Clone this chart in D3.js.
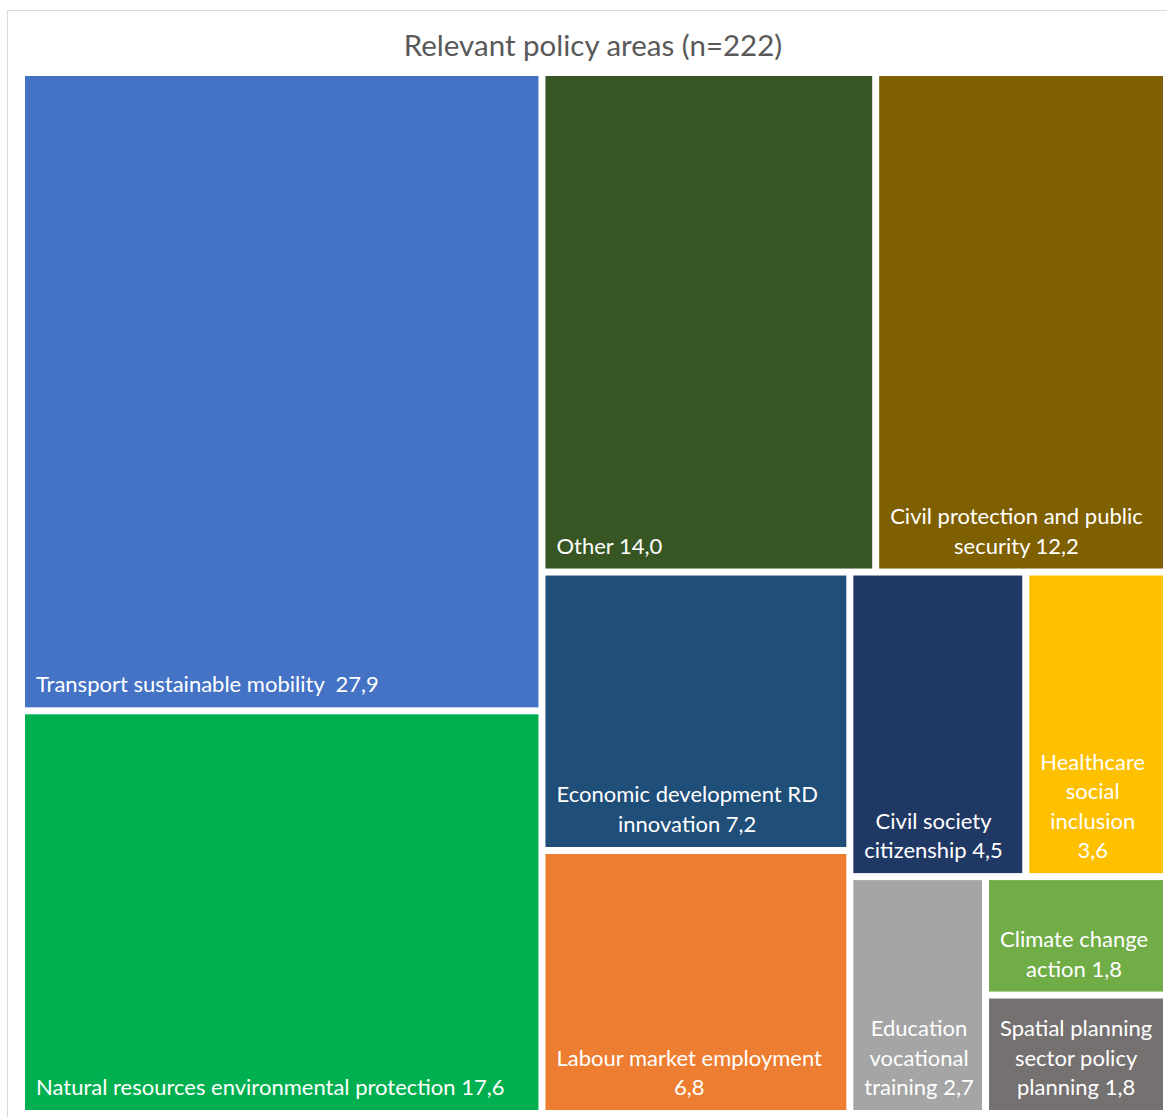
<!DOCTYPE html>
<html lang="en">
<head>
<meta charset="utf-8">
<title>Relevant policy areas</title>
<script src="https://cdn.jsdelivr.net/npm/d3@7"></script>
<style>
  body { margin: 0; background: #fff; }
  text { font-family: Lato, "Open Sans", sans-serif; }
  .lbl { fill: #fff; font-size: 22px; white-space: pre; }
</style>
</head>
<body>
<div id="chart"></div>
<script>
// data (share in %, n=222)
var categories = ["Transport sustainable mobility", "Natural resources environmental protection",
  "Other", "Civil protection and public security", "Economic development RD innovation",
  "Labour market employment", "Civil society citizenship", "Healthcare social inclusion",
  "Education vocational training", "Climate change action", "Spatial planning sector policy planning"];
var values = [27.9, 17.6, 14.0, 12.2, 7.2, 6.8, 4.5, 3.6, 2.7, 1.8, 1.8];
var colors = ["#4472C4", "#00B050", "#375623", "#7F6000", "#1F4E79", "#ED7D31",
  "#203864", "#FFC000", "#A5A5A5", "#70AD47", "#767171"];
// tile labels as wrapped in the original
var labelLines = [
  ["Transport sustainable mobility  27,9"],
  ["Natural resources environmental protection 17,6"],
  ["Other 14,0"],
  ["Civil protection and public", "security 12,2"],
  ["Economic development RD", "innovation 7,2"],
  ["Labour market employment", "6,8"],
  ["Civil society", "citizenship 4,5"],
  ["Healthcare", "social", "inclusion", "3,6"],
  ["Education", "vocational", "training 2,7"],
  ["Climate change", "action 1,8"],
  ["Spatial planning", "sector policy", "planning 1,8"]
];
var title = "Relevant policy areas (n=222)";

var w = 1167, h = 1117;
var box = {x0: 25, y0: 76, x1: 1163, y1: 1110};
var gap = 3.5;

var svg = d3.select("#chart").append("svg")
  .attr("width", w)
  .attr("height", h);

// chart frame
svg.append("rect")
  .attr("x", 7.5).attr("y", 10.5)
  .attr("width", 1300).attr("height", 1300)
  .attr("fill", "#fff")
  .attr("stroke", "#D9D9D9");

svg.append("text")
  .attr("x", 593).attr("y", 56)
  .attr("text-anchor", "middle")
  .attr("fill", "#595959")
  .style("font-size", "29.5px")
  .text(title);

var items = categories.map(function(c, i) {
  return {name: c, value: values[i], color: colors[i], lines: labelLines[i]};
});

var root = d3.hierarchy({children: items})
  .sum(function(d) { return d.value || 0; })
  .sort(function(a, b) { return b.value - a.value; });

d3.treemap()
  .tile(d3.treemapSquarify.ratio(1.12))
  .size([box.x1 - box.x0 + gap, box.y1 - box.y0 + gap])
  .paddingInner(gap)
  (root);

var g = svg.append("g")
  .attr("transform", "translate(" + (box.x0 - gap / 2) + "," + (box.y0 - gap / 2) + ")");

var cell = g.selectAll("g.cell")
  .data(root.leaves())
  .enter().append("g")
  .attr("class", "cell");

cell.append("rect")
  .attr("x", function(d) { return d.x0 + gap / 2; })
  .attr("y", function(d) { return d.y0 + gap / 2; })
  .attr("width", function(d) { return d.x1 - d.x0 - gap; })
  .attr("height", function(d) { return d.y1 - d.y0 - gap; })
  .attr("fill", function(d) { return d.data.color; });

var lineH = 29.5;
cell.each(function(d) {
  var sel = d3.select(this);
  var lines = d.data.lines;
  var x0 = d.x0 + gap / 2, y1 = d.y1 - gap / 2;
  var txt = sel.selectAll("text.lbl")
    .data(lines)
    .enter().append("text")
    .attr("class", "lbl")
    .attr("y", function(l, i) { return y1 - 15 - (lines.length - 1 - i) * lineH; })
    .text(function(l) { return l; });
  // lines are centred on each other, block sits at the left
  var blockW = d3.max(txt.nodes(), function(n) { return n.getComputedTextLength(); });
  txt.attr("x", x0 + 11 + blockW / 2)
    .attr("text-anchor", "middle");
});
</script>
</body>
</html>
